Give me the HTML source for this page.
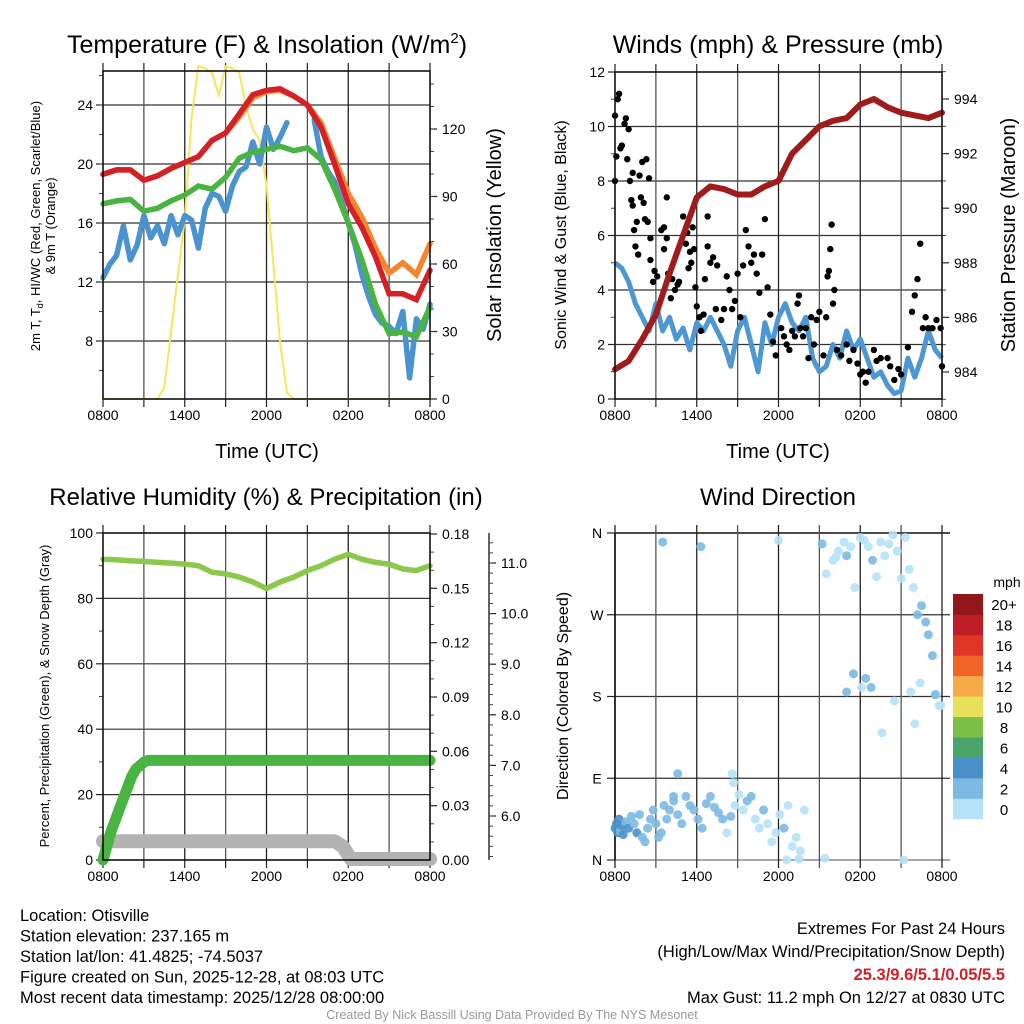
<!DOCTYPE html>
<html><head><meta charset="utf-8"><style>
html,body{margin:0;padding:0;background:#fff;}
svg{display:block;font-family:"Liberation Sans",sans-serif;}
</style></head><body>
<svg id="fig" width="1024" height="1024" viewBox="0 0 1024 1024" xmlns="http://www.w3.org/2000/svg">
<rect width="1024" height="1024" fill="#fff"/>
<text x="267" y="53" font-size="25" text-anchor="middle">Temperature (F) &amp; Insolation (W/m<tspan font-size="15" dy="-10">2</tspan><tspan dy="10">)</tspan></text>
<text x="778" y="53" font-size="25" text-anchor="middle">Winds (mph) &amp; Pressure (mb)</text>
<text x="266" y="505" font-size="24" text-anchor="middle">Relative Humidity (%) &amp; Precipitation (in)</text>
<text x="778" y="505" font-size="24" text-anchor="middle">Wind Direction</text>

<text transform="translate(40,226) rotate(-90)" font-size="13" text-anchor="middle">2m T, T<tspan font-size="9" dy="3">d</tspan><tspan dy="-3">, HI/WC (Red, Green, Scarlet/Blue)</tspan></text>
<text transform="translate(55,226) rotate(-90)" font-size="13" text-anchor="middle">&amp; 9m T (Orange)</text>
<text transform="translate(501,235) rotate(-90)" font-size="20" text-anchor="middle">Solar Insolation (Yellow)</text>
<text transform="translate(566,235) rotate(-90)" font-size="16" text-anchor="middle">Sonic Wind &amp; Gust (Blue, Black)</text>
<text transform="translate(1015,235) rotate(-90)" font-size="20" text-anchor="middle">Station Pressure (Maroon)</text>
<text transform="translate(49,696) rotate(-90)" font-size="13" text-anchor="middle">Percent, Precipitation (Green), &amp; Snow Depth (Gray)</text>
<text transform="translate(568,696) rotate(-90)" font-size="16" text-anchor="middle">Direction (Colored By Speed)</text>
<text x="267" y="458" font-size="20" text-anchor="middle">Time (UTC)</text>
<text x="778" y="458" font-size="20" text-anchor="middle">Time (UTC)</text>

<g font-size="16.5">
<text x="20" y="921">Location: Otisville</text>
<text x="20" y="941.5">Station elevation: 237.165 m</text>
<text x="20" y="962">Station lat/lon: 41.4825; -74.5037</text>
<text x="20" y="982.5">Figure created on Sun, 2025-12-28, at 08:03 UTC</text>
<text x="20" y="1003">Most recent data timestamp: 2025/12/28 08:00:00</text>
</g>
<g font-size="16.5" text-anchor="end">
<text x="1005" y="934">Extremes For Past 24 Hours</text>
<text x="1005" y="957">(High/Low/Max Wind/Precipitation/Snow Depth)</text>
<text x="1005" y="980" fill="#d0202a" font-weight="bold">25.3/9.6/5.1/0.05/5.5</text>
<text x="1005" y="1003">Max Gust: 11.2 mph On 12/27 at 0830 UTC</text>
</g>
<text x="512" y="1019" font-size="12.5" fill="#999" text-anchor="middle">Created By Nick Bassill Using Data Provided By The NYS Mesonet</text>
</svg>
<script>
// ---- data (hours since 0800 UTC) ----
var hourly=[0,1,2,3,4,5,6,7,8,9,10,11,12,13,14,15,16,17,18,19,20,21,22,23,24];
var tempRed=[19.3,19.6,19.6,18.9,19.2,19.7,20.1,20.5,21.6,22.1,23.4,24.7,25.0,25.1,24.6,24.0,22.5,20.0,17.3,15.7,13.7,11.2,11.2,10.8,12.8];
var tempOrange=[19.3,19.6,19.6,18.9,19.2,19.7,20.1,20.5,21.6,22.1,23.2,24.5,24.9,25.0,24.6,24.0,22.8,20.4,18.0,16.4,14.3,12.6,13.3,12.5,14.6];
var dewGreen=[17.3,17.5,17.6,16.8,17.0,17.5,17.9,18.5,18.3,19.1,20.4,20.8,21.0,21.2,20.9,21.1,20.3,18.3,16.0,13.5,10.5,8.5,8.6,8.3,10.3];
var halfHours=[];for(var i=0;i<=48;i++)halfHours.push(i/2);
var windChill=[12.3,13.2,13.8,15.8,13.5,14.5,16.5,15.0,15.8,14.6,16.5,15.2,16.5,16.2,14.3,17.0,18.0,17.8,16.8,18.5,19.5,19.8,21.5,20.0,22.5,21.0,21.8,22.8,null,23.5,null,23.0,20.5,19.5,18.8,17.5,16.0,14.5,12.5,11.0,9.8,9.2,9.0,8.5,10.0,5.5,9.5,8.8,10.5];
var solar=[0,0,0,0,0,0,0,0,0,5,30,55,80,125,148,147,145,135,148,147,145,130,120,115,95,60,25,3,0,0,0,0,0,0,0,0,0,0,0,0,0,0,0,0,0,0,0,0,0];
var windSpeed=[5.0,4.8,4.3,3.5,3.0,2.5,3.5,2.5,3.0,2.2,2.6,1.8,2.8,2.5,3.0,2.5,2.0,1.2,2.5,3.0,2.0,1.0,2.8,2.0,3.0,3.5,2.8,2.5,3.0,1.5,1.0,1.2,2.0,1.5,2.5,1.8,2.2,1.5,0.8,1.0,0.5,0.2,0.3,1.5,0.8,1.5,2.5,1.8,1.5];
var pressure=[984.1,984.4,985.2,986.1,987.6,989.0,990.4,990.8,990.7,990.5,990.5,990.8,991.0,992.0,992.5,993.0,993.2,993.3,993.8,994.0,993.7,993.5,993.4,993.3,993.5];
var gustHours=[0,0,0.1,0.2,0.3,0.4,0.5,0.7,0.8,0.9,1.0,1.1,1.3,1.2,1.3,1.4,1.5,1.6,1.7,1.8,1.9,2.0,2.1,2.2,2.3,2.4,2.5,2.6,2.6,2.8,2.9,3.1,3.4,3.6,3.6,3.8,3.8,3.9,4.1,4.2,4.4,4.6,4.7,5.0,5.2,5.3,5.4,5.5,5.6,5.7,5.8,5.9,6.0,6.2,6.3,6.5,6.6,6.8,6.8,7.0,7.2,7.4,7.5,7.8,8.0,8.2,8.4,8.6,8.8,9.0,9.2,9.4,9.6,9.8,10.0,10.2,10.4,10.6,10.8,11.0,11.2,11.4,11.6,11.8,12.2,12.4,12.6,12.8,13.0,13.2,13.4,13.5,13.6,13.8,14.0,14.2,14.4,14.6,14.8,15.0,15.3,15.5,15.6,15.7,15.8,15.9,16.0,16.1,16.3,16.6,17.0,17.2,17.5,17.8,18.0,18.2,18.4,18.6,19.0,19.2,19.5,20.0,20.2,20.5,20.8,21.0,21.5,21.8,22.0,22.2,22.4,22.6,22.8,23.0,23.3,23.6,23.9,24.0];
var gustVals=[8.0,10.4,8.9,11.0,11.2,9.2,9.3,10.1,10.3,8.8,9.9,8.0,8.3,7.3,7.1,6.2,5.6,6.5,5.3,8.2,7.4,8.7,7.2,6.6,8.8,6.5,8.1,5.9,5.1,4.3,4.7,4.5,6.2,5.5,6.3,5.9,7.4,4.6,3.7,4.4,4.0,4.2,4.3,6.7,5.7,6.1,4.8,5.4,5.0,6.3,5.5,4.1,3.4,3.0,2.5,3.1,4.4,6.7,5.6,5.0,5.2,3.3,4.9,2.9,3.3,4.5,4.0,3.3,3.6,4.6,3.0,4.9,6.2,5.6,5.0,5.3,4.6,3.9,5.3,6.6,4.1,3.1,2.1,1.6,2.6,2.3,2.0,1.8,2.5,2.3,3.5,3.8,2.6,2.3,2.6,1.5,3.0,2.0,2.9,3.2,1.6,3.0,4.5,4.7,5.5,6.4,3.5,4.0,1.8,1.6,2.0,1.4,1.8,1.3,0.9,1.0,0.6,1.0,1.8,1.4,1.5,1.5,1.2,0.7,1.1,0.9,1.9,3.2,3.8,4.4,5.7,2.6,3.0,2.6,2.6,2.9,2.6,1.2];
var rh=[92,91.8,91.5,91.3,91,90.8,90.5,90,88,87.5,86.5,85,83,85,86.5,88.5,90,92,93.5,92,91,90.5,89,88.5,90];
var precipHours=[0,0.3,0.6,0.9,1.2,1.5,1.8,2.1,2.4,2.7,3.0,3.3,24];
var precip=[0,0.008,0.016,0.022,0.028,0.034,0.040,0.046,0.050,0.052,0.054,0.055,0.055];
var snowHours=[0,0.2,0.4,17,17.6,18.2,24];
var snowDepth=[5.5,5.5,5.5,5.5,5.4,5.15,5.15];
var dirHours=[0.0,0.1,0.2,0.3,0.4,0.5,0.6,0.8,1.0,1.2,1.4,1.6,1.8,2.0,2.2,2.4,2.6,2.8,3.0,3.2,3.4,3.6,3.8,4.0,4.3,4.6,4.9,5.2,5.5,5.8,6.1,6.4,6.7,7.0,7.3,7.6,7.9,8.2,8.5,8.8,9.1,9.4,9.7,10.0,10.3,10.6,10.9,11.2,11.5,11.8,12.1,12.4,12.7,13.0,13.3,13.6,13.9,4.6,8.6,8.7,4.3,6.3,3.5,12.0,12.6,13.5,15.2,15.5,16.0,16.2,16.4,16.8,17.0,17.3,17.6,18.0,18.3,18.6,18.9,19.2,19.5,19.8,20.1,20.4,20.7,21.0,21.3,21.6,21.9,22.2,22.5,22.8,23.0,23.3,23.6,23.9,18.1,18.4,19.6,20.5,21.7,22.0,22.4,23.5,23.8,17.0,17.5,18.8,21.2,15.4];
var dirDeg=[35,40,30,45,32,38,28,42,35,48,40,30,50,25,20,35,45,55,40,25,30,60,45,55,65,50,40,70,60,55,45,35,62,70,58,52,45,30,48,60,72,55,65,70,45,35,55,40,20,30,50,35,60,15,25,10,55,95,95,85,70,345,350,352,0,1,348,315,330,333,340,350,335,345,300,355,352,345,330,312,350,335,348,358,340,310,355,320,300,270,280,262,248,225,182,170,190,200,140,175,185,150,195,182,170,185,205,190,0,2,4,15,210];
var dirSpeed=[4,4,4,4,3,4,4,3,4,3,3,4,3,3,3,2,3,3,3,2,2,3,3,2,3,2,3,3,2,2,3,3,2,2,3,3,2,1,2,1,1,1,2,2,1,1,2,1,1,1,1,2,1,1,1,1,1,2,1,1,3,3,3,1,1,1,3,1,1,1,1,1,2,1,1,1,1,1,3,1,1,1,1,1,1,1,1,1,1,2,3,3,3,3,1,1,1,3,1,1,1,1,1,3,1,3,3,3,1,1,1,1,1];
var speedBins=["0","2","4","6","8","10","12","14","16","18","20+"];
var binColors=["#b6e2f8","#7cb9e3","#4a90c8","#4aa46c","#7cc04a","#e6e05a","#f8aa48","#f06429","#dd3526","#be1e25","#92171b"];
var hourTicks=["0800","1400","2000","0200","0800"];

// ---- helpers ----
var NS="http://www.w3.org/2000/svg",svg=document.getElementById('fig');
function el(tag,attrs,parent){var e=document.createElementNS(NS,tag);for(var k in attrs)e.setAttribute(k,attrs[k]);(parent||svg).appendChild(e);return e;}
function lin(d0,d1,r0,r1){return function(v){return r0+(v-d0)/(d1-d0)*(r1-r0);};}
function pathFrom(xs,ys,xf,yf){var d="",pen=false;for(var i=0;i<xs.length;i++){if(ys[i]===null||ys[i]===undefined){pen=false;continue;}d+=(pen?"L":"M")+xf(xs[i]).toFixed(1)+","+yf(ys[i]).toFixed(1);pen=true;}return d;}

function frame(L,R,T,B,g){
  var xf=lin(0,24,L,R);
  for(var h=3;h<24;h+=3){var l=el('line',{x1:xf(h),x2:xf(h),y1:T,y2:B,stroke:(h%6?"#555":"#222"),"stroke-width":1.3},g);}
  for(var h=0;h<=24;h+=3){
    el('line',{x1:xf(h),x2:xf(h),y1:T-8,y2:T,stroke:"#222","stroke-width":1.2},g);
    el('line',{x1:xf(h),x2:xf(h),y1:B,y2:B+8,stroke:"#222","stroke-width":1.2},g);
  }
  for(var j=0;j<hourTicks.length;j++){var t=el('text',{x:xf(j*6),y:B+21,"font-size":14,"text-anchor":"middle"},g);t.textContent=hourTicks[j];}
  return xf;
}
function hgrid(vals,yf,L,R,g){vals.forEach(function(v){var l=el('line',{x1:L,x2:R,y1:yf(v),y2:yf(v),stroke:"#333","stroke-width":1.2},g);});}
function yTicks(vals,labels,yf,x,side,g,minor){
  vals.forEach(function(v,i){var dx=side<0?-7:7;el('line',{x1:x,x2:x+dx,y1:yf(v),y2:yf(v),stroke:"#222","stroke-width":1.2},g);
    var t=el('text',{x:x+(side<0?-10:12),y:yf(v)+5,"font-size":14,"text-anchor":side<0?"end":"start"},g);t.textContent=labels[i];});
  (minor||[]).forEach(function(v){el('line',{x1:x,x2:x+(side<0?-4:4),y1:yf(v),y2:yf(v),stroke:"#444","stroke-width":1},g);});
}
function box(L,R,T,B,g){var r=el('rect',{x:L,y:T,width:R-L,height:B-T,fill:"none",stroke:"#111","stroke-width":1.6},g);}
function range(a,b,s){var r=[];for(var v=a;v<=b+1e-9;v+=s)r.push(+v.toFixed(4));return r;}

// ---- Panel 1: temperature ----
(function(){
  var g=el('g',{});
  var L=103,R=430,T=71,B=399;
  var yT=lin(24,8,105,341), yS=lin(0,120,399,129);
  hgrid([8,12,16,20,24],yT,L,R,g);
  var xf=frame(L,R,T,B,g);
  yTicks([8,12,16,20,24],["8","12","16","20","24"],yT,L,-1,g,range(6,26,2));
  yTicks([0,30,60,90,120],["0","30","60","90","120"],yS,R,1,g,range(10,140,10));
  var s=el('path',{d:pathFrom(halfHours,solar,xf,yS),fill:"none",stroke:"#f9e45a","stroke-width":2},g);
  var w=el('path',{d:pathFrom(halfHours,windChill,xf,yT),fill:"none",stroke:"#4b93cf","stroke-width":5.5,"stroke-linecap":"round","stroke-linejoin":"round"},g);
  var gr=el('path',{d:pathFrom(hourly,dewGreen,xf,yT),fill:"none",stroke:"#4ab442","stroke-width":5.5,"stroke-linecap":"round"},g);
  var o=el('path',{d:pathFrom(hourly,tempOrange,xf,yT),fill:"none",stroke:"#f5852e","stroke-width":5.5,"stroke-linecap":"round"},g);
  var r=el('path',{d:pathFrom(hourly,tempRed,xf,yT),fill:"none",stroke:"#d42027","stroke-width":5.5,"stroke-linecap":"round"},g);
  box(L,R,T,B,g);
})();

// ---- Panel 2: winds & pressure ----
(function(){
  var g=el('g',{});
  var L=615,R=942,T=72,B=399;
  var yW=lin(0,12,399,72), yP=lin(984,994,372,99);
  hgrid([2,4,6,8,10],yW,L,R,g);
  var xf=frame(L,R,T,B,g);
  yTicks([0,2,4,6,8,10,12],["0","2","4","6","8","10","12"],yW,L,-1,g,range(1,11,2));
  yTicks([984,986,988,990,992,994],["984","986","988","990","992","994"],yP,R,1,g,range(983,995,1));
  var w=el('path',{d:pathFrom(halfHours,windSpeed,xf,yW),fill:"none",stroke:"#4d97d2","stroke-width":5,"stroke-linejoin":"round"},g);
  for(var i=0;i<gustHours.length;i++){var c=el('circle',{cx:xf(gustHours[i]),cy:yW(gustVals[i]),r:3.2,fill:"#000"},g);}
  var p=el('path',{d:pathFrom(hourly,pressure,xf,yP),fill:"none",stroke:"#a01c1c","stroke-width":6,"stroke-linecap":"round","stroke-linejoin":"round"},g);
  box(L,R,T,B,g);
})();

// ---- Panel 3: RH & precip ----
(function(){
  var g=el('g',{});
  var L=103,R=430,T=533,B=860;
  var yR=lin(0,100,860,533), yPr=lin(0,0.18,860,534), ySn=lin(6,11,816,563);
  hgrid([20,40,60,80],yR,L,R,g);
  var xf=frame(L,R,T,B,g);
  yTicks([0,20,40,60,80,100],["0","20","40","60","80","100"],yR,L,-1,g,range(10,90,20));
  yTicks([0,0.03,0.06,0.09,0.12,0.15,0.18],["0.00","0.03","0.06","0.09","0.12","0.15","0.18"],yPr,R,1,g,range(0.01,0.17,0.01));
  el('line',{x1:489,x2:489,y1:533,y2:860,stroke:"#222","stroke-width":1.4},g);
  yTicks([6,7,8,9,10,11],["6.0","7.0","8.0","9.0","10.0","11.0"],ySn,489,1,g,range(5.2,11.4,0.2));
  var s=el('path',{d:pathFrom(snowHours,snowDepth,xf,ySn),fill:"none",stroke:"#b3b3b3","stroke-width":14,"stroke-linecap":"round","stroke-linejoin":"round"},g);
  var p=el('path',{d:pathFrom(precipHours,precip,xf,yPr),fill:"none",stroke:"#4ab442","stroke-width":11,"stroke-linecap":"round","stroke-linejoin":"round"},g);
  var r=el('path',{d:pathFrom(hourly,rh,xf,yR),fill:"none",stroke:"#8cc84b","stroke-width":5.5,"stroke-linecap":"round","stroke-linejoin":"round"},g);
  box(L,R,T,B,g);
})();

// ---- Panel 4: wind direction ----
(function(){
  var g=el('g',{});
  var L=615,R=942,T=533,B=860;
  var yD=lin(0,360,860,533);
  hgrid([90,180,270],yD,L,R+8,g);
  el('line',{x1:L,x2:R+8,y1:T,y2:T,stroke:"#111","stroke-width":1.6},g);
  el('line',{x1:L,x2:R+8,y1:B,y2:B,stroke:"#888","stroke-width":1.6},g);
  var xf=lin(0,24,L,R);
  for(var h=0;h<=24;h+=3){el('line',{x1:xf(h),x2:xf(h),y1:T-8,y2:B+8,stroke:(h%6?"#555":"#222"),"stroke-width":1.3},g);}
  for(var j=0;j<hourTicks.length;j++){var t=el('text',{x:xf(j*6),y:B+21,"font-size":14,"text-anchor":"middle"},g);t.textContent=hourTicks[j];}
  var dl=["N","E","S","W","N"];
  for(var k=0;k<5;k++){el('line',{x1:L-8,x2:L,y1:yD(k*90),y2:yD(k*90),stroke:"#222","stroke-width":1.2},g);var t=el('text',{x:L-18,y:yD(k*90)+5,"font-size":14,"text-anchor":"middle"},g);t.textContent=dl[k];}
  el('line',{x1:L,x2:L,y1:T,y2:B,stroke:"#111","stroke-width":1.6},g);
  for(var i=0;i<dirHours.length;i++){var bin=Math.min(10,Math.floor(dirSpeed[i]/2));var c=el('circle',{cx:xf(dirHours[i]),cy:yD(dirDeg[i]),r:4.5,fill:binColors[bin],"fill-opacity":0.9},g);}
  var cb=el('g',{},g);
  var bh=225/11;
  for(var b=0;b<11;b++){var y=819-(b+1)*bh;el('rect',{x:953,y:y,width:30,height:bh+0.3,fill:binColors[b]},cb);var t=el('text',{x:1004,y:y+bh/2+6,"font-size":15,"text-anchor":"middle"},cb);t.textContent=speedBins[b];}
  var u=el('text',{x:1007,y:587,"font-size":14,"text-anchor":"middle"},cb);u.textContent="mph";
})();
</script>
</body></html>
